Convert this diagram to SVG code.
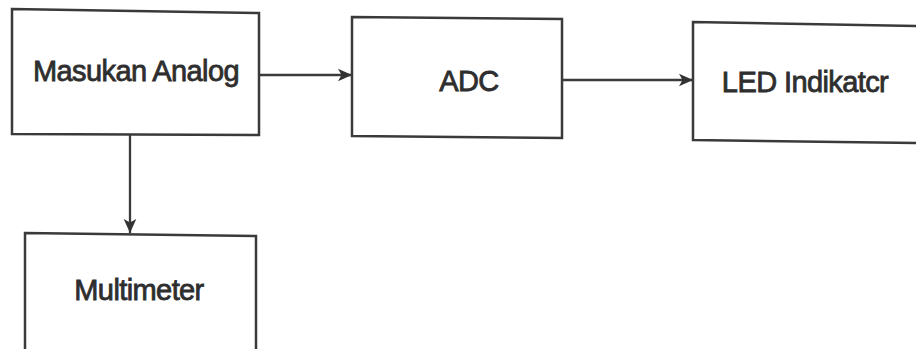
<svg xmlns="http://www.w3.org/2000/svg" width="916" height="349" viewBox="0 0 916 349">
<style>
.box{fill:#fff;stroke:#3a3a3a;stroke-width:2.5}
.lbl{font-family:"Liberation Sans",Arial,sans-serif;font-size:29px;letter-spacing:-0.6px;fill:#2e2e2e;text-anchor:middle;stroke:#2e2e2e;stroke-width:0.8}
.conn{stroke:#3a3a3a;stroke-width:2.3;fill:none}
</style>
<defs>
<marker id="ah" viewBox="0 0 10 10" refX="10" refY="5" markerWidth="14" markerHeight="14" markerUnits="userSpaceOnUse" orient="auto">
<path d="M0,0.5 L10,5 L0,9.5 L2.5,5 z" fill="#333"/>
</marker>
</defs>
<rect width="916" height="349" fill="#fff"/>
<g id="connectors">
<line class="conn" x1="259" y1="75" x2="352" y2="75" marker-end="url(#ah)"/>
<line class="conn" x1="562" y1="80" x2="693" y2="80" marker-end="url(#ah)"/>
<line class="conn" x1="130" y1="135" x2="130" y2="233" marker-end="url(#ah)"/>
</g>
<g id="masukan-analog">
<path class="box" d="M12,9 L259,13 L259,135 L12,134 Z"/>
<text class="lbl" x="136" y="81">Masukan Analog</text>
</g>
<g id="adc">
<path class="box" d="M352,17 L562,19 L562,138 L352,136 Z"/>
<text class="lbl" x="469" y="91">ADC</text>
</g>
<g id="led-indikator">
<path class="box" d="M693,22 L920,26 L920,143 L693,140 Z"/>
<text class="lbl" x="805" y="92">LED Indikatcr</text>
</g>
<g id="multimeter">
<path class="box" d="M25,233 L256,236 L256,352 L25,352 Z"/>
<text class="lbl" x="139" y="300">Multimeter</text>
</g>
</svg>
